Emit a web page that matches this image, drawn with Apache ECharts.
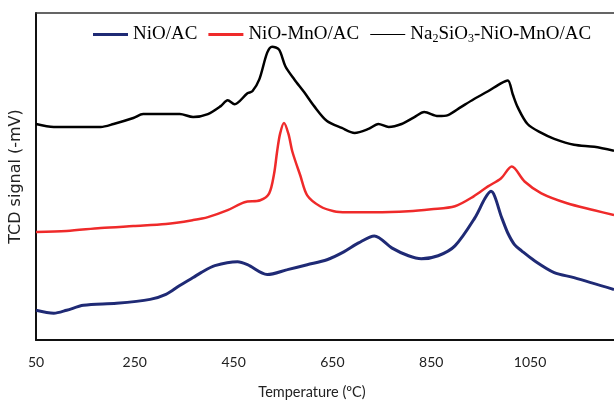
<!DOCTYPE html>
<head>
    <meta charset="utf-8">
    <title>TPR</title>
    <script type="text/javascript" src="https://cdn.jsdelivr.net/npm/echarts@6/dist/echarts.min.js"></script>
</head>
<body style="margin:0">
<div id="main" style="width:614px;height:405px"></div>
<script type="text/javascript">
// x tick labels (temperature, °C)
var xTicks = [50, 250, 450, 650, 850, 1050];

// NiO/AC
var tempNi = [50, 86, 112, 146, 213, 281, 313, 341, 368, 384, 412, 458, 478, 518, 559, 599, 639, 673, 703, 735, 770, 804, 830, 864, 898, 938, 959, 971, 993, 1005, 1019, 1033, 1059, 1099, 1139, 1220];
var sigNi  = [30, 27, 30, 35, 37, 41, 46, 55, 63, 68, 75, 79, 76, 66, 71, 76, 81, 89, 98, 105, 93, 85, 82, 85, 95, 123, 143, 150, 123, 108, 96, 90, 80, 68, 63, 51];

// NiO-MnO/AC
var tempNiMn = [50, 112, 181, 247, 313, 368, 398, 438, 472, 504, 522, 532, 538, 544, 552, 561, 569, 585, 599, 625, 653, 679, 735, 804, 850, 898, 936, 965, 991, 1013, 1039, 1073, 1125, 1180, 1220];
var sigNiMn  = [109, 110, 113, 115, 117, 121, 124, 131, 139, 141, 148, 168, 190, 208, 219, 208, 190, 166, 146, 135, 130, 129, 129, 130, 132, 135, 145, 155, 163, 175, 160, 148, 138, 131, 126];

// Na2SiO3-NiO-MnO/AC
var tempNa = [50, 86, 181, 207, 247, 267, 313, 341, 368, 398, 424, 438, 452, 478, 488, 502, 518, 528, 542, 555, 573, 593, 613, 639, 669, 695, 723, 743, 764, 790, 816, 836, 864, 884, 910, 936, 965, 991, 1005, 1015, 1025, 1045, 1073, 1099, 1139, 1180, 1220];
var sigNa  = [218, 215, 215, 218, 224, 228, 228, 228, 225, 228, 236, 242, 238, 249, 251, 263, 290, 296, 293, 276, 263, 250, 236, 221, 214, 209, 213, 218, 215, 218, 225, 230, 226, 227, 235, 243, 251, 259, 262, 248, 235, 218, 209, 203, 197, 195, 191];

function zip(xs, ys) {
    var out = [];
    for (var i = 0; i < xs.length; i++) out.push([xs[i], ys[i]]);
    return out;
}

var nameNi = 'NiO/AC', nameNiMn = 'NiO-MnO/AC', nameNa = 'Na2SiO3-NiO-MnO/AC';

var myChart = echarts.init(document.getElementById('main'));
var option = {
    animation: false,
    grid: { left: 32, right: 0, top: 13, bottom: 62 },
    legend: {
        left: 88, top: 20,
        itemWidth: 35, itemHeight: 3, itemGap: 11,
        textStyle: {
            fontFamily: 'Liberation Serif', fontSize: 19, color: '#000',
            rich: {
                n: { fontFamily: 'Liberation Serif', fontSize: 19, color: '#000' },
                s: { fontFamily: 'Liberation Serif', fontSize: 12, color: '#000', padding: [9, 0, 0, 0] }
            }
        },
        formatter: function (name) {
            if (name === nameNa) return '{n|Na}{s|2}{n|SiO}{s|3}{n|-NiO-MnO/AC}';
            return name;
        },
        data: [
            { name: nameNi, icon: 'rect' },
            { name: nameNiMn, icon: 'rect' },
            { name: nameNa, icon: 'path://M0,0H35V1H0Z' }
        ]
    },
    xAxis: [{
        type: 'value', min: 50, max: 1220, interval: 200,
        name: 'Temperature (\u00baC)', nameLocation: 'middle', nameGap: 45,
        nameTextStyle: { fontFamily: 'Lato', fontSize: 14.5, color: '#222', padding: [0, 26, 0, 0] },
        axisLine: { lineStyle: { color: '#111', width: 2 } },
        axisTick: { show: false },
        splitLine: { show: false },
        axisLabel: {
            margin: 15, showMaxLabel: false, fontFamily: 'Lato', fontSize: 14, color: '#222',
            formatter: function (v) { return xTicks.indexOf(v) >= 0 ? String(v) : ''; }
        }
    }, {
        type: 'value', position: 'top', min: 50, max: 1220,
        axisLine: { show: true, lineStyle: { color: '#333', width: 1.5 } },
        axisTick: { show: false }, axisLabel: { show: false }, splitLine: { show: false }
    }],
    yAxis: {
        type: 'value', min: 0, max: 330,
        name: 'TCD signal (-mV)', nameLocation: 'middle', nameGap: 12,
        nameTextStyle: { fontFamily: 'DejaVu Sans', fontSize: 16, color: '#222' },
        axisLine: { show: true, lineStyle: { color: '#111', width: 2 } },
        axisTick: { show: false }, axisLabel: { show: false }, splitLine: { show: false }
    },
    series: [
        { name: nameNi, type: 'line', data: zip(tempNi, sigNi), showSymbol: false, smooth: 0.3,
          color: '#1f2a75', lineStyle: { width: 3, color: '#1f2a75' } },
        { name: nameNiMn, type: 'line', data: zip(tempNiMn, sigNiMn), showSymbol: false, smooth: 0.3,
          color: '#ef2a2a', lineStyle: { width: 2.5, color: '#ef2a2a' } },
        { name: nameNa, type: 'line', data: zip(tempNa, sigNa), showSymbol: false, smooth: 0.3,
          color: '#000', lineStyle: { width: 2.5, color: '#000' } }
    ]
};
myChart.setOption(option);
</script>
</body>
